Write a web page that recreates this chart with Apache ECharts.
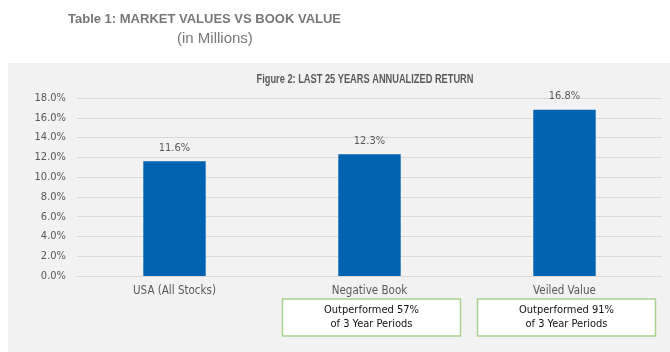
<!DOCTYPE html>
<html>
<head>
<meta charset="utf-8">
<script src="https://cdn.jsdelivr.net/npm/echarts@6/dist/echarts.min.js"></script>
<style>
  html, body { margin: 0; padding: 0; background: #fff; }
  #chart { width: 670px; height: 352px; }
</style>
</head>
<body>
<div id="chart"></div>
<script>
// data
var categories = ['USA (All Stocks)', 'Negative Book', 'Veiled Value'];
var returns = [11.6, 12.3, 16.8];
var notes = ['', 'Outperformed 57%\nof 3 Year Periods', 'Outperformed 91%\nof 3 Year Periods'];

var narrow = '"DejaVu Sans Condensed", "Liberation Sans Narrow", sans-serif';
var sans = '"Liberation Sans", Arial, sans-serif';
var grey = '#595959';

var chart = echarts.init(document.getElementById('chart'));

// note boxes under the category labels
var boxes = [];
var gridLeft = 77, gridRight = 8, boxW = 178, boxH = 37, boxTop = 299;
var catW = (670 - gridLeft - gridRight) / categories.length;
notes.forEach(function (t, i) {
  if (!t) return;
  var cx = gridLeft + catW * (i + 0.5) + 2;
  boxes.push({
    type: 'rect',
    shape: { x: cx - boxW / 2, y: boxTop, width: boxW, height: boxH },
    style: { fill: '#fff', stroke: '#a9d18e', lineWidth: 1.5 }
  });
  boxes.push({
    type: 'text',
    x: cx, y: boxTop + boxH / 2,
    style: {
      text: t, fill: '#111', font: '11px ' + narrow,
      align: 'center', verticalAlign: 'middle', lineHeight: 14
    }
  });
});

var option = {
  backgroundColor: '#fff',
  title: [
    {
      text: 'Table 1: MARKET VALUES VS BOOK VALUE',
      left: 63, top: 8,
      textStyle: { color: '#777', fontSize: 13, fontWeight: 'bold', fontFamily: sans }
    },
    {
      text: '(in Millions)',
      left: 172, top: 26,
      textStyle: { color: '#777', fontSize: 15, fontWeight: 'normal', fontFamily: sans }
    }
  ],
  graphic: [
    {
      type: 'rect', z: -10, silent: true,
      shape: { x: 8, y: 63, width: 662, height: 289 },
      style: { fill: '#f2f2f2' }
    },
    {
      // chart heading, squeezed to look like a narrow face
      type: 'text', x: 365, y: 80, scaleX: 0.74,
      style: {
        text: 'Figure 2: LAST 25 YEARS ANNUALIZED RETURN',
        fill: grey, font: 'bold 12.5px ' + sans,
        align: 'center', verticalAlign: 'middle'
      }
    }
  ].concat(boxes),
  grid: { left: gridLeft, right: gridRight, top: 98, bottom: 76 },
  xAxis: {
    type: 'category',
    data: categories,
    axisLine: { lineStyle: { color: '#d9d9d9' } },
    axisTick: { show: false },
    axisLabel: { color: grey, fontSize: 11.5, fontFamily: narrow, margin: 9 }
  },
  yAxis: {
    type: 'value',
    min: 0, max: 18, interval: 2,
    axisLine: { show: false },
    axisTick: { show: false },
    splitLine: { lineStyle: { color: '#d9d9d9' } },
    axisLabel: {
      color: grey, fontSize: 11, fontFamily: narrow, margin: 11,
      formatter: function (v) { return v.toFixed(1) + '%'; }
    }
  },
  series: [
    {
      type: 'bar',
      data: returns,
      barWidth: '32%',
      itemStyle: { color: '#0063b1' },
      label: {
        show: true, position: 'top', distance: 8,
        color: grey, fontSize: 11, fontFamily: narrow,
        formatter: function (p) { return p.value.toFixed(1) + '%'; }
      }
    }
  ]
};

chart.setOption(option);
</script>
</body>
</html>
